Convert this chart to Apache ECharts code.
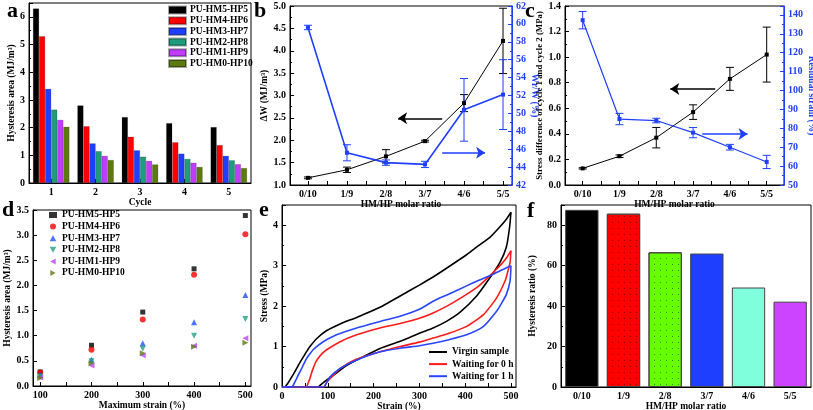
<!DOCTYPE html>
<html><head><meta charset="utf-8">
<script src="https://cdn.jsdelivr.net/npm/echarts@6/dist/echarts.min.js"></script>
<style>html,body{margin:0;padding:0;background:#fff}#c{width:813px;height:410px}</style>
</head><body><div id="c"></div>
<script>
// ---------- DATA ----------
// panel a
const cycles = ['1', '2', '3', '4', '5'];
const sampleNames = ['PU-HM5-HP5', 'PU-HM4-HP6', 'PU-HM3-HP7', 'PU-HM2-HP8', 'PU-HM1-HP9', 'PU-HM0-HP10'];
const hystHM5 = [6.3, 2.8, 2.38, 2.16, 2.02];
const hystHM4 = [5.3, 2.05, 1.67, 1.47, 1.37];
const hystHM3 = [3.4, 1.43, 1.18, 1.06, 0.98];
const hystHM2 = [2.65, 1.15, 0.95, 0.87, 0.82];
const hystHM1 = [2.28, 0.98, 0.8, 0.73, 0.68];
const hystHM0 = [2.03, 0.83, 0.67, 0.58, 0.54];
// panel b
const ratios = ['0/10', '1/9', '2/8', '3/7', '4/6', '5/5'];
const deltaW = [1.16, 1.34, 1.64, 1.98, 2.83, 4.22];
const deltaWErr = [0.02, 0.06, 0.15, 0.02, 0.19, 0.73];
const wrW = [59.6, 45.6, 44.5, 44.3, 50.4, 52.1];
const wrWErr = [0.25, 0.9, 0.3, 0.35, 3.5, 3.9];
// panel c
const stressDiff = [0.13, 0.225, 0.37, 0.57, 0.83, 1.02];
const stressDiffErr = [0.005, 0.01, 0.08, 0.057, 0.09, 0.215];
const residualStrain = [137.2, 84.9, 84.1, 77.7, 70.0, 62.2];
const residualStrainErr = [4.6, 3.0, 1.2, 2.7, 1.5, 3.5];
// panel d
const maxStrain = [100, 200, 300, 400, 500];
const dHM5 = [0.28, 0.81, 1.47, 2.33, 3.39];
const dHM4 = [0.27, 0.72, 1.32, 2.21, 3.02];
const dHM3 = [0.22, 0.52, 0.85, 1.27, 1.81];
const dHM2 = [0.19, 0.49, 0.74, 1.0, 1.33];
const dHM1 = [0.17, 0.41, 0.61, 0.8, 0.95];
const dHM0 = [0.16, 0.45, 0.65, 0.78, 0.86];
// panel e
const eNames = ['Virgin sample', 'Waiting for 0 h', 'Waiting for 1 h'];
const virginLoadStrain = [0, 6, 12, 17, 25, 32, 40, 47, 54, 61, 76, 97, 127, 163, 214, 258, 300, 330, 365, 403, 430, 454, 475, 490, 500];
const virginLoadStress = [0, 0, 0.08, 0.17, 0.32, 0.46, 0.62, 0.75, 0.88, 1.0, 1.2, 1.39, 1.56, 1.72, 1.97, 2.25, 2.52, 2.72, 2.98, 3.27, 3.5, 3.7, 3.95, 4.15, 4.32];
const virginUnloadStrain = [500, 497, 490, 476, 454, 425, 389, 360, 330, 300, 258, 214, 178, 141, 112, 97, 83, 79, 0];
const virginUnloadStress = [4.32, 3.95, 3.46, 3.08, 2.7, 2.25, 1.85, 1.63, 1.46, 1.33, 1.13, 0.95, 0.75, 0.53, 0.29, 0.17, 0.04, 0, 0];
const h0LoadStrain = [0, 53, 57, 61, 64, 68, 73, 79, 88, 97.5, 127, 163, 214, 258, 300, 330, 365, 403, 430, 461, 480, 492, 500];
const h0LoadStress = [0, 0, 0.1, 0.21, 0.33, 0.46, 0.6, 0.71, 0.83, 0.92, 1.12, 1.29, 1.46, 1.57, 1.7, 1.83, 2.03, 2.29, 2.5, 2.83, 3.05, 3.22, 3.37];
const h0UnloadStrain = [500, 498, 493, 487, 469, 440, 403, 365, 330, 300, 258, 214, 163, 127, 112, 97.5, 92, 0];
const h0UnloadStress = [3.37, 3.08, 2.85, 2.62, 2.21, 1.79, 1.5, 1.33, 1.21, 1.11, 1.0, 0.87, 0.69, 0.46, 0.29, 0.12, 0, 0];
const h1LoadStrain = [0, 21, 25, 28, 32, 37, 43, 48, 54, 61, 68, 79, 90, 119, 163, 214, 258, 300, 330, 365, 403, 430, 461, 490, 500];
const h1LoadStress = [0, 0, 0.05, 0.12, 0.21, 0.33, 0.46, 0.58, 0.71, 0.82, 0.92, 1.03, 1.12, 1.29, 1.46, 1.62, 1.75, 1.92, 2.12, 2.3, 2.5, 2.64, 2.79, 2.95, 3.0];
const h1UnloadStrain = [500, 498, 490, 480, 469, 440, 403, 365, 330, 300, 258, 214, 163, 127, 105, 94, 90, 0];
const h1UnloadStress = [3.0, 2.62, 2.29, 2.08, 1.88, 1.5, 1.29, 1.17, 1.08, 1.02, 0.96, 0.87, 0.67, 0.46, 0.25, 0.04, 0, 0];
// panel f
const hystRatio = [87.6, 85.7, 66.6, 66.0, 49.2, 42.2];

// ---------- STYLE ----------
const FONT = 'Liberation Serif';
const BLUE = '#1f3fff';
const aColors = ['#000000', '#ff0000', '#1f3fff', '#1e9c7c', '#c03cff', '#5d7a10'];
const dColors = ['#000000', '#ff0000', '#2050ff', '#20a080', '#c040ff', '#5a7a10'];
const dSymbols = ['rect', 'circle', 'path://M5,0 L10,9 L0,9 Z', 'path://M0,0 L10,0 L5,9 Z', 'path://M9,0 L9,10 L0,5 Z', 'path://M0,0 L0,10 L9,5 Z'];
const eColors = ['#000000', '#ff1a1a', '#2846ff'];
const fColors = ['#000000', '#ff0000', '#66ff00', '#1f3fff', '#80ffdd', '#cc44ff'];

function lab(extra) { return Object.assign({ color: '#000', fontFamily: FONT, fontWeight: 'bold', fontSize: 10, margin: 4 }, extra || {}); }
function nm(extra) { return Object.assign({ color: '#000', fontFamily: FONT, fontWeight: 'bold', fontSize: 9.5 }, extra || {}); }
function ax(o) {
  return Object.assign({
    axisLine: { show: true, onZero: false, lineStyle: { color: '#000', width: 1 } },
    axisTick: { show: true, inside: true, length: 4, lineStyle: { color: '#000' } },
    minorTick: { show: false },
    axisLabel: lab(),
    splitLine: { show: false },
    nameLocation: 'middle',
    nameTextStyle: nm()
  }, o);
}
const gridBase = { show: true, borderColor: '#000', borderWidth: 1, backgroundColor: 'transparent', outerBoundsMode: 'none', containLabel: false };

const grids = [
  Object.assign({ left: 29, top: 3, width: 222, height: 180 }, gridBase),
  Object.assign({ left: 290, top: 6, width: 222, height: 179 }, gridBase),
  Object.assign({ left: 565, top: 6, width: 219, height: 179 }, gridBase),
  Object.assign({ left: 33, top: 210, width: 218, height: 176 }, gridBase),
  Object.assign({ left: 282, top: 205, width: 234, height: 182 }, gridBase),
  Object.assign({ left: 561, top: 205, width: 250, height: 182 }, gridBase)
];

const ratioTicks = [0, 0.5, 1, 1.5, 2, 2.5, 3, 3.5, 4, 4.5, 5];
const ratioLabelVals = [0, 1, 2, 3, 4, 5];
const ratioFmt = v => ratios[Math.round(v)];

const xAxes = [
  ax({ type: 'category', gridIndex: 0, data: cycles, name: 'Cycle', nameGap: 12, axisTick: { show: true, inside: true, length: 4, alignWithLabel: true, lineStyle: { color: '#000' } } }),
  ax({ type: 'value', gridIndex: 1, min: -0.46, max: 5.23, name: 'HM/HP molar ratio', nameGap: 13,
       axisLabel: lab({ customValues: ratioLabelVals, formatter: ratioFmt }),
       axisTick: { show: true, inside: true, length: 4, customValues: ratioTicks, lineStyle: { color: '#000' } } }),
  ax({ type: 'value', gridIndex: 2, min: -0.48, max: 5.47, name: 'HM/HP molar ratio', nameGap: 13,
       axisLabel: lab({ customValues: ratioLabelVals, formatter: ratioFmt }),
       axisTick: { show: true, inside: true, length: 4, customValues: ratioTicks, lineStyle: { color: '#000' } } }),
  ax({ type: 'value', gridIndex: 3, min: 86, max: 511, name: 'Maximum strain (%)', nameGap: 12,
       axisLabel: lab({ customValues: [100, 200, 300, 400, 500] }),
       axisTick: { show: true, inside: true, length: 4, customValues: [100, 150, 200, 250, 300, 350, 400, 450, 500], lineStyle: { color: '#000' } } }),
  ax({ type: 'value', gridIndex: 4, min: 0, max: 511, name: 'Strain (%)', nameGap: 11,
       axisLabel: lab({ customValues: [0, 100, 200, 300, 400, 500] }),
       axisTick: { show: true, inside: true, length: 4, customValues: [0, 50, 100, 150, 200, 250, 300, 350, 400, 450, 500], lineStyle: { color: '#000' } } }),
  ax({ type: 'category', gridIndex: 5, data: ratios, name: 'HM/HP molar ratio', nameGap: 10,
       axisTick: { show: true, inside: true, length: 4, alignWithLabel: true, lineStyle: { color: '#000' } } })
];

const minor = { show: true, splitNumber: 2, length: 2, lineStyle: { color: '#000' } };
const blueAxis = {
  axisLine: { show: true, onZero: false, lineStyle: { color: BLUE, width: 1 } },
  axisTick: { show: true, inside: true, length: 4, lineStyle: { color: BLUE } },
  minorTick: { show: true, splitNumber: 2, length: 2, lineStyle: { color: BLUE } },
  axisLabel: lab({ color: BLUE }),
  nameTextStyle: nm({ color: BLUE })
};
const yAxes = [
  ax({ type: 'value', gridIndex: 0, min: 0, max: 6.5, interval: 1, minorTick: minor, name: 'Hysteresis area (MJ/m\u00b3)', nameGap: 11,
       axisLabel: lab({ showMaxLabel: false }) }),
  ax({ type: 'value', gridIndex: 1, min: 1, max: 5, interval: 0.5, minorTick: minor, name: '\u0394W (MJ/m\u00b3)', nameGap: 12,
       axisLabel: lab({ formatter: v => v.toFixed(1) }) }),
  ax(Object.assign({ type: 'value', gridIndex: 1, position: 'right', min: 42, max: 62, interval: 2, name: 'Wr/W (%)', nameGap: 10, nameRotate: -90 }, blueAxis)),
  ax({ type: 'value', gridIndex: 2, min: 0, max: 1.4, interval: 0.2, minorTick: minor, name: 'Stress difference of cycle 1 and cycle 2 (MPa)', nameGap: 16,
       axisLabel: lab({ formatter: v => v.toFixed(1) }), nameTextStyle: nm({ fontSize: 8.8 }) }),
  ax(Object.assign({ type: 'value', gridIndex: 2, position: 'right', min: 50, max: 144.7, interval: 10, name: 'Residual strain (%)', nameGap: 17, nameRotate: -90 },
       blueAxis, { axisLabel: lab({ color: BLUE, showMaxLabel: false }) })),
  ax({ type: 'value', gridIndex: 3, min: 0, max: 3.5, interval: 0.5, name: 'Hysteresis area (MJ/m\u00b3)', nameGap: 15,
       axisLabel: lab({ formatter: v => v.toFixed(1) }) }),
  ax({ type: 'value', gridIndex: 4, min: 0, max: 4.5, interval: 1, minorTick: minor, name: 'Stress (MPa)', nameGap: 10,
       axisLabel: lab({ showMaxLabel: false }) }),
  ax({ type: 'value', gridIndex: 5, min: 0, max: 90, interval: 20, minorTick: minor, name: 'Hysteresis ratio (%)', nameGap: 23,
       axisLabel: lab({ showMaxLabel: false }) })
];

// error bar renderer
function errRender(color, capW) {
  return function (params, api) {
    const x = api.value(0), v = api.value(1), e = api.value(2);
    const t = api.coord([x, v + e]), b = api.coord([x, v - e]);
    const st = { stroke: color, lineWidth: 1 };
    return { type: 'group', children: [
      { type: 'line', shape: { x1: t[0], y1: t[1], x2: b[0], y2: b[1] }, style: st },
      { type: 'line', shape: { x1: t[0] - capW, y1: t[1], x2: t[0] + capW, y2: t[1] }, style: st },
      { type: 'line', shape: { x1: b[0] - capW, y1: b[1], x2: b[0] + capW, y2: b[1] }, style: st }
    ] };
  };
}
function arrowLine(color, from, to) {
  return { silent: true, symbol: ['none', 'arrow'], symbolSize: 9, label: { show: false },
           lineStyle: { color: color, width: 1.5, type: 'solid' }, emphasis: { disabled: true },
           data: [[{ coord: from }, { coord: to }]] };
}

const series = [];
// a
const aData = [hystHM5, hystHM4, hystHM3, hystHM2, hystHM1, hystHM0];
sampleNames.forEach((n, i) => series.push({
  type: 'bar', name: n, xAxisIndex: 0, yAxisIndex: 0, data: aData[i],
  itemStyle: { color: aColors[i], borderColor: 'rgba(0,0,0,0.35)', borderWidth: 0.5 },
  barGap: '0%', barCategoryGap: '18%'
}));
// b
series.push({ type: 'line', name: 'bBlack', xAxisIndex: 1, yAxisIndex: 1, data: ratios.map((r, i) => [i, deltaW[i]]),
  symbol: 'rect', symbolSize: 4, lineStyle: { color: '#000', width: 1 }, itemStyle: { color: '#000' },
  markLine: arrowLine('#000', [3.44, 2.49], [2.31, 2.49]) });
series.push({ type: 'custom', name: 'bBlackErr', xAxisIndex: 1, yAxisIndex: 1, renderItem: errRender('#000', 4),
  data: ratios.map((r, i) => [i, deltaW[i], deltaWErr[i]]), encode: { x: 0, y: 1 }, z: 3 });
series.push({ type: 'line', name: 'bBlue', xAxisIndex: 1, yAxisIndex: 2, data: ratios.map((r, i) => [i, wrW[i]]),
  symbol: 'rect', symbolSize: 4, lineStyle: { color: BLUE, width: 1.6 }, itemStyle: { color: BLUE },
  markLine: arrowLine(BLUE, [3.44, 45.6], [4.54, 45.6]) });
series.push({ type: 'custom', name: 'bBlueErr', xAxisIndex: 1, yAxisIndex: 2, renderItem: errRender(BLUE, 4),
  data: ratios.map((r, i) => [i, wrW[i], wrWErr[i]]), encode: { x: 0, y: 1 }, z: 3 });
// c
series.push({ type: 'line', name: 'cBlack', xAxisIndex: 2, yAxisIndex: 3, data: ratios.map((r, i) => [i, stressDiff[i]]),
  symbol: 'rect', symbolSize: 4, lineStyle: { color: '#000', width: 1 }, itemStyle: { color: '#000' },
  markLine: arrowLine('#000', [3.6, 0.75], [2.38, 0.75]) });
series.push({ type: 'custom', name: 'cBlackErr', xAxisIndex: 2, yAxisIndex: 3, renderItem: errRender('#000', 4),
  data: ratios.map((r, i) => [i, stressDiff[i], stressDiffErr[i]]), encode: { x: 0, y: 1 }, z: 3 });
series.push({ type: 'line', name: 'cBlue', xAxisIndex: 2, yAxisIndex: 4, data: ratios.map((r, i) => [i, residualStrain[i]]),
  symbol: 'rect', symbolSize: 4, lineStyle: { color: BLUE, width: 1.2 }, itemStyle: { color: BLUE },
  markLine: arrowLine(BLUE, [3.25, 77], [4.48, 77]) });
series.push({ type: 'custom', name: 'cBlueErr', xAxisIndex: 2, yAxisIndex: 4, renderItem: errRender(BLUE, 4),
  data: ratios.map((r, i) => [i, residualStrain[i], residualStrainErr[i]]), encode: { x: 0, y: 1 }, z: 3 });
// d
const dData = [dHM5, dHM4, dHM3, dHM2, dHM1, dHM0];
sampleNames.forEach((n, i) => series.push({
  type: 'scatter', name: n + '#d', xAxisIndex: 3, yAxisIndex: 5,
  data: maxStrain.map((s, k) => [s, dData[i][k]]),
  symbol: dSymbols[i], symbolSize: i === 0 ? 5 : 6,
  itemStyle: { color: dColors[i] }
}));
// e
const eLoops = [
  [virginLoadStrain, virginLoadStress, virginUnloadStrain, virginUnloadStress],
  [h0LoadStrain, h0LoadStress, h0UnloadStrain, h0UnloadStress],
  [h1LoadStrain, h1LoadStress, h1UnloadStrain, h1UnloadStress]
];
eNames.forEach((n, i) => {
  const L = eLoops[i];
  [[L[0], L[1]], [L[2], L[3]]].forEach(pair => series.push({
    type: 'line', name: n, xAxisIndex: 4, yAxisIndex: 6, smooth: 0.2, symbol: 'none', showSymbol: false,
    data: pair[0].map((s, k) => [s, pair[1][k]]),
    lineStyle: { color: eColors[i], width: 1.6 }, itemStyle: { color: eColors[i] }
  }));
});
// f
const fDecal = { symbol: 'rect', symbolSize: 1, color: 'rgba(0,0,0,0.45)', dashArrayX: [1, 5], dashArrayY: [1, 5], rotation: 0 };
series.push({ type: 'bar', name: 'fBars', xAxisIndex: 5, yAxisIndex: 7, barCategoryGap: '20%',
  data: hystRatio.map((v, i) => ({ value: v, itemStyle: (i === 1 || i === 2) ? { color: fColors[i], decal: fDecal } : { color: fColors[i] } })),
  itemStyle: { borderColor: '#444', borderWidth: 1 } });

const letters = [['a', 7, 0], ['b', 254, 0], ['c', 525, 0], ['d', 2, 199], ['e', 259, 199], ['f', 527, 200]];

const option = {
  animation: false,
  backgroundColor: '#fff',
  title: letters.map(l => ({ text: l[0], left: l[1], top: l[2], padding: 0,
    textStyle: { fontFamily: FONT, fontWeight: 'bold', fontSize: 22, color: '#000' } })),
  grid: grids,
  xAxis: xAxes,
  yAxis: yAxes,
  legend: [
    { data: sampleNames.map(n => ({ name: n, icon: 'rect' })), orient: 'vertical', left: 168, top: 5, padding: 0,
      itemWidth: 17, itemHeight: 7, itemGap: 0.7, selectedMode: false,
      textStyle: { fontFamily: FONT, fontWeight: 'bold', fontSize: 9.5, color: '#000', padding: [0, 0, 0, -1] } },
    { data: sampleNames.map(n => n + '#d'), orient: 'vertical', left: 49, top: 210, padding: 0,
      itemWidth: 8, itemHeight: 6, itemGap: 1.6, selectedMode: false, formatter: n => n.replace('#d', ''),
      textStyle: { fontFamily: FONT, fontWeight: 'bold', fontSize: 9.5, color: '#000' } },
    { data: eNames.map(n => ({ name: n, icon: 'rect' })), orient: 'vertical', left: 429, top: 347, padding: 0,
      itemWidth: 18, itemHeight: 2, itemGap: 2.1, selectedMode: false,
      textStyle: { fontFamily: FONT, fontWeight: 'bold', fontSize: 9.5, color: '#000' } }
  ],
  series: series
};
const chart = echarts.init(document.getElementById('c'), null, { renderer: 'canvas' });
chart.setOption(option);
</script>
</body></html>
